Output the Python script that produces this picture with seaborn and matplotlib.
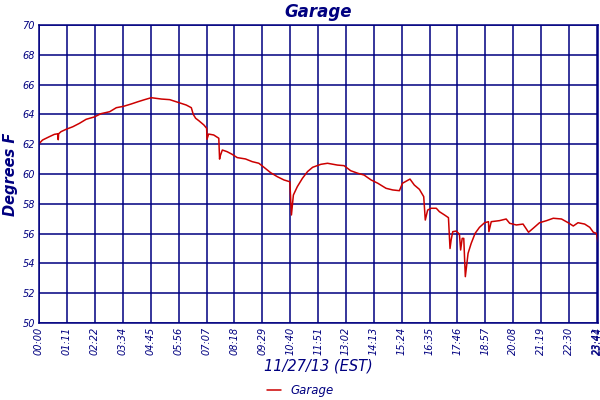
import matplotlib
matplotlib.use("Agg")
import matplotlib.pyplot as plt
import seaborn as sns
import pandas as pd

# minutes after midnight, 11/27/13
minutes = [1, 9, 26, 39, 48, 49, 50, 56, 69, 86, 103, 120, 141, 158, 180, 197, 215,
           235, 252, 269, 286, 312, 333, 354, 375, 388, 393, 399, 407, 420, 427,
           428, 432, 445, 458, 460, 461, 467, 479, 492, 505, 526, 543, 560, 573,
           590, 607, 624, 639, 643, 648, 658, 671, 684, 697, 718, 735, 760, 777,
           794, 812, 828, 846, 863, 884, 901, 918, 926, 945, 956, 969, 980, 984,
           990, 999, 1012, 1020, 1033, 1043, 1047, 1050, 1054, 1063, 1071, 1074,
           1078, 1082, 1086, 1093, 1101, 1111, 1122, 1135, 1145, 1146, 1152, 1173,
           1190, 1199, 1216, 1233, 1247, 1259, 1275, 1293, 1310, 1331, 1348, 1361,
           1373, 1390, 1403, 1412, 1420, 1424]
garage = [62.06, 62.28, 62.5, 62.66, 62.7, 62.3, 62.7, 62.84, 63.0, 63.17, 63.4,
          63.67, 63.83, 64.05, 64.18, 64.45, 64.54, 64.7, 64.85, 64.99, 65.12,
          65.03, 64.99, 64.81, 64.63, 64.45, 64.0, 63.74, 63.58, 63.29, 63.07,
          62.33, 62.68, 62.62, 62.4, 61.0, 61.16, 61.61, 61.5, 61.32, 61.1, 61.01,
          60.83, 60.72, 60.45, 60.09, 59.82, 59.6, 59.48, 57.25, 58.59, 59.15,
          59.71, 60.16, 60.45, 60.65, 60.72, 60.6, 60.56, 60.22, 60.05, 59.93,
          59.6, 59.38, 59.04, 58.93, 58.88, 59.38, 59.66, 59.26, 58.97, 58.48,
          56.91, 57.58, 57.7, 57.7, 57.47, 57.25, 57.07, 55.0, 55.6, 56.13, 56.17,
          55.95, 54.9, 55.68, 55.68, 53.11, 54.68, 55.35, 56.02, 56.42, 56.73,
          56.8, 56.13, 56.8, 56.87, 56.98, 56.69, 56.58, 56.64, 56.09, 56.36,
          56.73, 56.87, 57.03, 56.98, 56.73, 56.51, 56.73, 56.64, 56.42, 56.09,
          56.02, 55.46]

tick_minutes = [0, 71, 142, 214, 285, 356, 427, 498, 569, 640, 711, 782, 853, 924,
                995, 1066, 1137, 1208, 1279, 1350, 1421, 1424]
tick_labels = ["00:00", "01:11", "02:22", "03:34", "04:45", "05:56", "07:07",
               "08:18", "09:29", "10:40", "11:51", "13:02", "14:13", "15:24",
               "16:35", "17:46", "18:57", "20:08", "21:19", "22:30", "23:41", "23:44"]
y_ticks = [50, 52, 54, 56, 58, 60, 62, 64, 66, 68, 70]

navy = "#000080"
red = "#CC0000"

sns.set_style("white")
plt.rcParams["font.family"] = ["DejaVu Sans"]

df = pd.DataFrame({"minute": minutes, "temp": garage})

fig = plt.figure(figsize=(6, 4), dpi=100)
ax = fig.add_axes([0.065, 0.1925, 0.9317, 0.745])

sns.lineplot(data=df, x="minute", y="temp", ax=ax, color=red, linewidth=1.1,
             label="Garage", legend=False)

ax.set_xlim(0, 1424)
ax.set_ylim(50, 70)
ax.set_xticks(tick_minutes)
ax.set_xticklabels(tick_labels, rotation=90, fontsize=7, style="italic", color=navy)
ax.set_yticks(y_ticks)
ax.set_yticklabels([str(v) for v in y_ticks], fontsize=7, style="italic", color=navy)
ax.tick_params(length=0, pad=3)
ax.grid(True, color=navy, linewidth=1.1)
ax.set_axisbelow(True)
for s in ax.spines.values():
    s.set_color(navy)
    s.set_linewidth(1.1)

ax.set_title("Garage", fontsize=12, style="italic", fontweight="bold", color=navy, pad=6)
ax.set_ylabel("Degrees F", fontsize=10.5, style="italic", fontweight="bold", color=navy, labelpad=3)
ax.set_xlabel("11/27/13 (EST)", fontsize=10.5, style="italic", color=navy, labelpad=2)

fig.legend(loc="lower center", bbox_to_anchor=(0.5, -0.02), frameon=False,
           prop={"style": "italic", "size": 8.5}, handlelength=1.2,
           labelcolor=navy)

fig.savefig("out.png", dpi=100)
